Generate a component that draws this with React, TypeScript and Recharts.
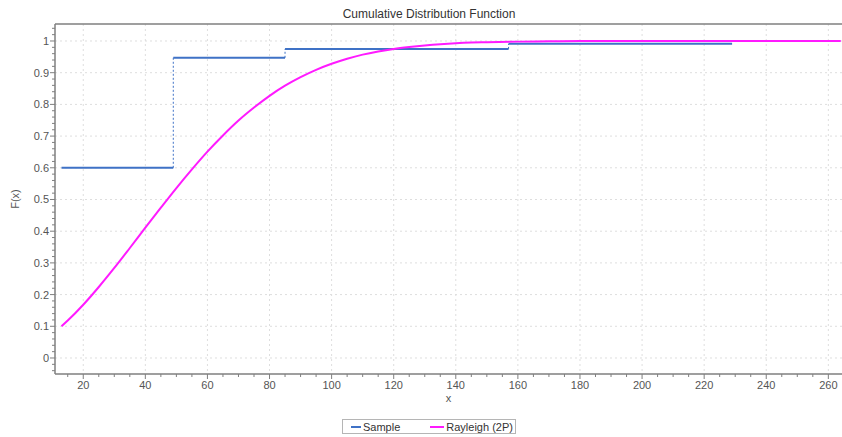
import React from "react";
import { LineChart, Line, XAxis, YAxis, CartesianGrid, ReferenceLine } from "recharts";

// empirical CDF steps (x where each step starts, level of the step)
const sampleX = [13, 49, 85, 157, 229];
const sampleF = [0.6, 0.947, 0.975, 0.991];

// fitted Rayleigh (2P) CDF
const rayleighX = [13, 15, 20, 25, 30, 35, 40, 45, 50, 55, 60, 65, 70, 75, 80, 85, 90, 95, 100, 105, 110, 115, 120, 125, 130, 135, 140, 145, 150, 160, 170, 180, 200, 220, 240, 264];
const rayleighF = [0.1, 0.118, 0.168, 0.224, 0.284, 0.347, 0.411, 0.474, 0.536, 0.595, 0.651, 0.702, 0.749, 0.79, 0.827, 0.859, 0.886, 0.909, 0.928, 0.944, 0.957, 0.967, 0.975, 0.981, 0.986, 0.99, 0.993, 0.995, 0.996, 0.998, 0.999, 1, 1, 1, 1, 1];

const xMajor = [20, 40, 60, 80, 100, 120, 140, 160, 180, 200, 220, 240, 260];
const yMajor = [0, 0.1, 0.2, 0.3, 0.4, 0.5, 0.6, 0.7, 0.8, 0.9, 1];

const xDomain: [number, number] = [10.9, 264.4];
const yDomain: [number, number] = [-0.0505, 1.0536];

const xMinor: number[] = [];
for (let v = 15; v <= 260; v += 5) xMinor.push(v);
const yMinor: number[] = [];
for (let i = -2; i <= 52; i++) yMinor.push(Math.round(i * 2) / 100);

const sampleLevels = sampleF.flatMap((f, i) => [
  { x: sampleX[i], y: f },
  { x: sampleX[i + 1], y: f },
  { x: sampleX[i + 1], y: null },
]);
const sampleJumps = sampleF.slice(1).flatMap((f, i) => [
  { x: sampleX[i + 1], y: sampleF[i] },
  { x: sampleX[i + 1], y: f },
  { x: sampleX[i + 1], y: null },
]);
const rayleighData = rayleighX.map((x, i) => ({ x, y: rayleighF[i] }));

const FONT = "'Liberation Sans', Arial, sans-serif";
const AXIS = "#7f7f7f";
const BLUE = "#3f72c6";
const MAGENTA = "#ff1aff";

const isMajorX = (v: number) => xMajor.includes(v);
const isMajorY = (v: number) => yMajor.some((m) => Math.abs(m - v) < 1e-6);

const XTick = (props: any) => {
  const { x, y, payload } = props;
  const major = isMajorX(payload.value);
  return (
    <g>
      <line x1={x} x2={x} y1={y} y2={y + (major ? 5 : 3)} stroke={AXIS} />
      {major && (
        <text x={x} y={y + 15} textAnchor="middle" fontSize={11} fill="#555" fontFamily={FONT}>
          {payload.value}
        </text>
      )}
    </g>
  );
};

const YTick = (props: any) => {
  const { x, y, payload } = props;
  const major = isMajorY(payload.value);
  return (
    <g>
      <line x1={x} x2={x - (major ? 5 : 3)} y1={y} y2={y} stroke={AXIS} />
      {major && (
        <text x={x - 6} y={y + 4} textAnchor="end" fontSize={11} fill="#555" fontFamily={FONT}>
          {String(Math.round(payload.value * 10) / 10)}
        </text>
      )}
    </g>
  );
};

const App = () => {
  return (
    <div style={{ position: "absolute", left: 0, top: 0, width: 842, height: 437, background: "#fff", fontFamily: FONT }}>
      <div style={{ position: "absolute", left: 0, top: 6, width: 858, textAlign: "center", fontSize: 12, lineHeight: "16px", color: "#333" }}>
        Cumulative Distribution Function
      </div>
      <LineChart width={842} height={437} margin={{ top: 24, right: 0, bottom: 0, left: 0 }}>
        <CartesianGrid horizontalValues={yMajor} verticalValues={xMajor} stroke="#dedede" strokeDasharray="2 3" />
        <XAxis
          dataKey="x"
          type="number"
          domain={xDomain}
          allowDataOverflow
          ticks={xMinor}
          interval={0}
          tick={<XTick />}
          tickLine={false}
          tickSize={0}
          tickMargin={0}
          height={63}
          axisLine={{ stroke: AXIS, strokeWidth: 1.5 }}
          label={{ value: "x", position: "insideTop", offset: 20, fontSize: 11, fill: "#555", fontFamily: FONT }}
        />
        <YAxis
          type="number"
          domain={yDomain}
          allowDataOverflow
          ticks={yMinor}
          interval={0}
          tick={<YTick />}
          tickLine={false}
          tickSize={0}
          tickMargin={0}
          width={55}
          axisLine={{ stroke: AXIS, strokeWidth: 1.5 }}
          label={{ value: "F(x)", angle: -90, position: "insideLeft", offset: 15, fontSize: 11, fill: "#555", fontFamily: FONT, style: { textAnchor: "middle" } }}
        />
        <ReferenceLine y={yDomain[1]} stroke={AXIS} strokeWidth={1.5} />
        <Line data={sampleJumps} dataKey="y" stroke={BLUE} strokeWidth={1} strokeDasharray="2 2" dot={false} activeDot={false} isAnimationActive={false} legendType="none" />
        <Line data={sampleLevels} dataKey="y" stroke={BLUE} strokeWidth={2} dot={false} activeDot={false} isAnimationActive={false} />
        <Line data={rayleighData} dataKey="y" type="monotone" stroke={MAGENTA} strokeWidth={2} dot={false} activeDot={false} isAnimationActive={false} />
      </LineChart>
      <div
        style={{
          position: "absolute",
          left: 342,
          top: 419,
          width: 172,
          height: 13,
          border: "1px solid #b5b5b5",
          display: "flex",
          alignItems: "center",
          fontSize: 11,
          color: "#333",
          whiteSpace: "nowrap",
        }}
      >
        <span style={{ display: "inline-block", width: 10, height: 2, background: BLUE, marginLeft: 8, marginRight: 2 }} />
        <span>Sample</span>
        <span style={{ display: "inline-block", width: 14, height: 2, background: MAGENTA, marginLeft: 30, marginRight: 2 }} />
        <span>Rayleigh (2P)</span>
      </div>
    </div>
  );
};

export default App;
